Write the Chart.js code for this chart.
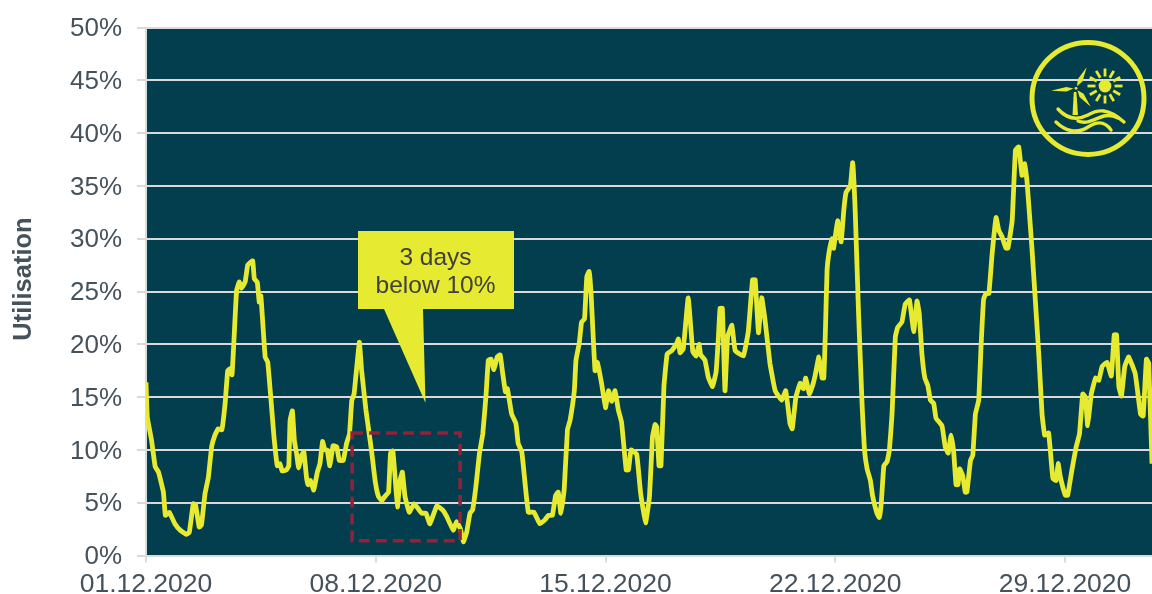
<!DOCTYPE html>
<html><head><meta charset="utf-8">
<script src="https://cdn.jsdelivr.net/npm/chart.js@4"></script>
<style>html,body{margin:0;padding:0;background:#fff;overflow:hidden}canvas{display:block}</style>
</head><body><canvas id="c" width="1152" height="594"></canvas>
<script>
const days = [0,.04,.17,.28,.38,.53,.59,.71,.88,1.04,1.24,1.32,1.44,1.51,1.62,1.69,1.8,1.9,2,2.1,2.2,2.31,2.41,2.49,2.56,2.62,2.68,2.76,2.84,2.91,3.02,3.1,3.25,3.3,3.39,3.45,3.5,3.63,3.71,3.83,3.9,4,4.08,4.15,4.28,4.35,4.39,4.46,4.52,4.59,4.65,4.74,4.81,4.89,4.94,5.01,5.11,5.22,5.3,5.38,5.45,5.52,5.6,5.7,5.81,5.89,6.01,6.11,6.2,6.27,6.34,6.5,6.57,6.7,6.77,6.88,6.98,7.08,7.18,7.28,7.39,7.45,7.52,7.59,7.66,7.74,7.81,7.89,8.02,8.17,8.3,8.4,8.53,8.65,8.86,9.04,9.16,9.36,9.46,9.57,9.67,9.77,9.87,9.95,10.05,10.16,10.26,10.36,10.43,10.51,10.6,10.7,10.79,10.87,10.95,11.01,11.14,11.27,11.34,11.45,11.55,11.65,11.82,12,12.16,12.26,12.38,12.48,12.56,12.64,12.74,12.84,12.92,13.05,13.1,13.2,13.27,13.36,13.43,13.5,13.56,13.68,13.75,13.88,14,14.09,14.19,14.29,14.39,14.49,14.63,14.7,14.78,14.95,15.07,15.22,15.34,15.43,15.51,15.56,15.63,15.69,15.78,15.88,16.02,16.17,16.22,16.27,16.37,16.52,16.66,16.76,16.85,16.9,17.03,17.13,17.26,17.37,17.44,17.49,17.56,17.64,17.72,17.85,17.95,18.2,18.35,18.48,18.56,18.66,18.76,18.86,19.01,19.17,19.37,19.49,19.62,19.69,19.8,19.93,20.03,20.1,20.21,20.31,20.39,20.5,20.6,20.65,20.7,20.75,20.82,20.9,20.95,21.07,21.18,21.26,21.33,21.46,21.53,21.61,21.71,21.82,21.89,21.97,22.07,22.14,22.27,22.34,22.4,22.48,22.58,22.65,22.73,22.83,22.9,23.03,23.13,23.26,23.39,23.49,23.56,23.64,23.73,23.82,23.9,24,24.07,24.25,24.35,24.44,24.53,24.61,24.68,24.74,24.79,24.88,24.96,25.01,25.12,25.19,25.27,25.37,25.44,25.52,25.59,25.68,25.78,25.9,25.98,26.08,26.2,26.26,26.39,26.49,26.59,26.69,26.77,26.84,26.99,27.2,27.3,27.38,27.5,27.63,27.73,27.79,27.86,28.01,28.08,28.21,28.34,28.44,28.54,28.62,28.69,28.8,28.93,29.03,29.13,29.28,29.41,29.5,29.57,29.64,29.72,29.82,29.94,30.14,30.3,30.38,30.48,30.55,30.65];
const utilisation = [16.4,13.1,10.9,8.4,7.9,6,3.8,4.1,3,2.4,2,2.2,4.9,4.8,2.7,2.9,5.9,7.4,10.3,11.4,12,11.9,14.4,17.5,17.7,17.1,20.4,25.1,25.9,25.3,25.9,27.5,27.9,26.2,25.9,24,24.6,18.8,18.3,13.9,11.2,8.5,8.7,8,8.1,8.5,12.8,13.7,10.9,9.6,8.3,9.5,9.8,7.4,6.7,7.1,6.2,7.9,8.7,10.8,10,10,8.5,10.4,10.3,9,9,10.6,11.5,14.7,15.3,20.2,17.5,13.8,12.2,9.7,7.1,5.6,5.2,5.6,6,9.7,9.9,7.4,4.6,7.1,7.9,5.6,4.1,4.9,4.4,4,4,3,4.7,4.3,3.7,2.4,3.2,2.6,1.3,2.2,4,4.3,6.5,9.7,11.5,15.2,18.5,18.6,17.6,18.8,19,17.2,15.5,15.8,13.4,12.5,10.6,9.8,6.8,4.1,4.1,3,3.4,3.8,3.8,5.7,6,4,6.2,11.9,12.8,15.6,18.5,20.1,22.1,22.4,26.4,26.9,24.8,17.5,18.3,16.3,14,15.6,14.6,15.6,13.8,12.6,8.1,8.1,10,9.6,5.9,3.1,5.6,11.2,12.4,12.2,8.5,8.5,16,19.1,19.4,20.1,20.5,19.2,19.6,24.4,19.3,18.9,20,19,18.5,16.9,16,17.4,20.7,23.4,23.4,15.6,20.7,21.8,19.4,18.9,21.2,26.1,26.1,21.1,24.4,22.3,18.2,15.6,14.7,15.6,12.5,12,15,16.3,15.8,16.8,15.3,16.1,17.1,18.8,16.8,16.8,21.3,27,28.9,30,29.1,31.7,29.7,32.7,34.4,35,37.2,32.4,22.9,14.1,10,8.2,7.1,5.6,4,3.6,4.9,8.5,8.9,10,13.4,20.7,21.6,22.1,23.8,24.2,21.2,24.1,22.9,19.1,16.8,16.1,14.7,14.4,13,12.3,10.3,9.7,11.4,9.7,6.7,6.7,8.2,7.6,6,6,9,9.5,13.4,14.7,19.7,24.3,24.8,24.8,28.6,32,30.8,30.2,29.1,29.1,31.7,38.4,38.7,36,37.1,35.5,29.2,19.1,13.4,11.4,11.6,7.3,7.1,8.7,7.4,5.7,5.7,8.1,10.3,11.5,15.3,15,12.3,15.3,16.8,16.6,17.9,18.3,17,20.9,20.9,16,15.1,17.9,18.8,17.2,13.4,13.2,18.6,18.2,8.7];
const xTickLabels = ['01.12.2020','08.12.2020','15.12.2020','22.12.2020','29.12.2020'];
const yTicks = [0,5,10,15,20,25,30,35,40,45,50];
const axisTitle = 'Utilisation';
const calloutLines = ['3 days','below 10%'];
const lowWindow = {dayFrom:6.28, dayTo:9.57, valueFrom:1.4, valueTo:11.6};

const TEAL='#023e4e', YEL='#e6ea30', GRID='#d9d9d9', EDGE='#d5dfd8', TXT='#45525c', DARK='#404040';
const FONT='"Liberation Sans", Arial, sans-serif';

const decor = {
  id:'decor',
  beforeDraw(ch){
    const {ctx,chartArea:a}=ch;
    ctx.save();ctx.fillStyle=TEAL;ctx.fillRect(a.left,a.top,a.right-a.left,a.bottom-a.top);ctx.restore();
  },
  afterDraw(ch){
    const {ctx,scales:{x,y}}=ch;
    ctx.save();
    ctx.strokeStyle='#94213a';ctx.lineWidth=3.5;ctx.setLineDash([11,6]);
    const rx=x.getPixelForValue(lowWindow.dayFrom), rx2=x.getPixelForValue(lowWindow.dayTo);
    const ry=y.getPixelForValue(lowWindow.valueTo), ry2=y.getPixelForValue(lowWindow.valueFrom);
    ctx.strokeRect(rx,ry,rx2-rx,ry2-ry);
    ctx.setLineDash([]);
    ctx.fillStyle=YEL;ctx.beginPath();
    ctx.moveTo(358,231);ctx.lineTo(514,231);ctx.lineTo(514,309);ctx.lineTo(423,309);
    ctx.lineTo(425.5,403);ctx.lineTo(384,309);ctx.lineTo(358,309);ctx.closePath();ctx.fill();
    ctx.fillStyle=DARK;ctx.font='24.5px '+FONT;ctx.textAlign='center';ctx.textBaseline='alphabetic';
    ctx.fillText(calloutLines[0],435.5,265);
    ctx.fillText(calloutLines[1],435.5,293);
    ctx.save();ctx.translate(31,279);ctx.rotate(-Math.PI/2);
    ctx.font='bold 25.5px '+FONT;ctx.fillStyle=TXT;ctx.fillText(axisTitle,0,0);ctx.restore();
    ctx.strokeStyle=YEL;ctx.fillStyle=YEL;ctx.lineCap='round';
    ctx.lineWidth=5;ctx.beginPath();ctx.arc(1088,98.4,56,0,Math.PI*2);ctx.stroke();
    ctx.beginPath();ctx.arc(1105,86,6.4,0,Math.PI*2);ctx.fill();
    ctx.lineWidth=2.8;ctx.lineCap='butt';
    for(let i=0;i<12;i++){const t=i*Math.PI/6;ctx.beginPath();
      ctx.moveTo(1105+9.5*Math.cos(t),86+9.5*Math.sin(t));ctx.lineTo(1105+17.5*Math.cos(t),86+17.5*Math.sin(t));ctx.stroke();}
    const blade=(tx,ty,w)=>{const hx=1076,hy=88.3,dx=tx-hx,dy=ty-hy,l=Math.hypot(dx,dy),nx=-dy/l,ny=dx/l;
      const sx=hx+dx*.1,sy=hy+dy*.1,mx=hx+dx*.38,my=hy+dy*.38;
      ctx.beginPath();ctx.moveTo(sx,sy);ctx.lineTo(mx+nx*w,my+ny*w);ctx.lineTo(tx,ty);ctx.lineTo(mx-nx*w,my-ny*w);ctx.closePath();ctx.fill();};
    blade(1051,90.7,2.2);blade(1086.7,67.3,2.6);blade(1090.7,106.7,2.6);
    ctx.beginPath();ctx.arc(1076,88.3,1.4,0,Math.PI*2);ctx.fill();
    ctx.beginPath();ctx.moveTo(1073.8,92);ctx.lineTo(1076.4,92);ctx.lineTo(1078,115);ctx.lineTo(1072.5,115);ctx.closePath();ctx.fill();
    ctx.lineWidth=3.4;ctx.lineCap='round';
    ctx.beginPath();ctx.moveTo(1058,109);ctx.bezierCurveTo(1066,118,1076,121,1088,115);ctx.bezierCurveTo(1098,109,1108,108,1124,122);ctx.stroke();
    ctx.beginPath();ctx.moveTo(1056,122);ctx.bezierCurveTo(1064,130,1076,135,1088,127);ctx.bezierCurveTo(1096,122,1104,120,1111,130);ctx.stroke();
    ctx.beginPath();ctx.moveTo(1078,121);ctx.bezierCurveTo(1088,125,1096,118,1104,116);ctx.bezierCurveTo(1108,115,1114,116,1118,118);ctx.stroke();
    ctx.restore();
  }
};

new Chart(document.getElementById('c'),{
  type:'line',
  data:{datasets:[{data:days.map((d,i)=>({x:d,y:utilisation[i]})),borderColor:YEL,borderWidth:4.8,borderJoinStyle:'round',pointRadius:0,tension:0.1,fill:false,clip:true}]},
  plugins:[decor],
  options:{
    responsive:false,animation:false,
    layout:{padding:{top:27.5,right:0,bottom:0,left:0}},
    plugins:{legend:{display:false},tooltip:{enabled:false}},
    scales:{
      x:{type:'linear',min:0,max:30.65,
        afterFit(s){s.height=38.5;s.paddingLeft=0;s.paddingRight=0;},
        ticks:{stepSize:7,includeBounds:false,autoSkip:false,maxRotation:0,minRotation:0,font:{family:FONT,size:26.5},color:TXT,padding:6,
          callback(v){return xTickLabels[Math.round(v/7)]??'';}},
        grid:{display:true,drawOnChartArea:false,drawTicks:true,tickLength:7,color:EDGE,lineWidth:2},
        border:{display:true,color:EDGE,width:2}},
      y:{type:'linear',min:0,max:50,
        afterFit(s){s.width=146;s.paddingTop=0;s.paddingBottom=0;},
        ticks:{stepSize:5,font:{family:FONT,size:26},color:TXT,padding:15,labelOffset:1.5,callback(v){return yTicks.includes(v)?v+'%':'';}},
        grid:{color:GRID,lineWidth:2,drawTicks:true,tickLength:9},
        border:{display:true,color:EDGE,width:2}}
    }
  }
});
</script></body></html>
